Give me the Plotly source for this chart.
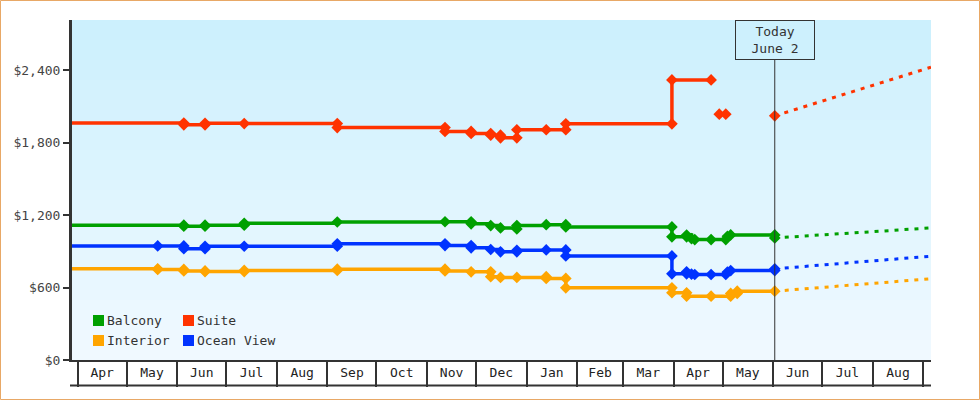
import plotly.graph_objects as go

# ---------------- data ----------------
Y_TICKS = [0, 600, 1200, 1800, 2400]
Y_TICK_LABELS = ["$0", "$600", "$1,200", "$1,800", "$2,400"]
X_START = "2024-03-28 12:00"
X_END = "2025-09-05 17:00"
TODAY = "2025-06-02"
TODAY_LABEL = "Today<br>June 2"

SERIES_NAMES = ["Balcony", "Suite", "Interior", "Ocean View"]
SERIES_COLORS = ["#00a000", "#ff3300", "#ffa500", "#0033ff"]

BALCONY_DATES = ["2024-03-28", "2024-06-05", "2024-06-05", "2024-06-18", "2024-06-18",
                 "2024-07-12", "2024-07-12", "2024-09-07", "2024-11-12", "2024-11-28", "2024-11-28",
                 "2024-12-10", "2024-12-16", "2024-12-26", "2024-12-26", "2025-01-13",
                 "2025-01-25", "2025-01-25", "2025-03-31", "2025-03-31", "2025-04-09",
                 "2025-04-09", "2025-04-12", "2025-04-14", "2025-04-24", "2025-05-03",
                 "2025-05-04", "2025-05-06", "2025-06-02", "2025-06-02"]
BALCONY_PRICES = [1117, 1117, 1108, 1108, 1117,
                  1117, 1132, 1143, 1145, 1145, 1128,
                  1113, 1094, 1086, 1113, 1121,
                  1121, 1102, 1102, 1020, 1020,
                  1035, 1005, 997, 997, 997,
                  1025, 1036, 1036, 1011]

SUITE_DATES = ["2024-03-28", "2024-06-05", "2024-06-05", "2024-06-18", "2024-06-18",
               "2024-07-12", "2024-09-07", "2024-09-07", "2024-11-12", "2024-11-12",
               "2024-11-28", "2024-11-28", "2024-12-10", "2024-12-10", "2024-12-16",
               "2024-12-16", "2024-12-26", "2024-12-26", "2025-01-13", "2025-01-25",
               "2025-01-25", "2025-03-31", "2025-03-31", "2025-04-24", "2025-04-26",
               "2025-04-29", "2025-05-03", "2025-05-10", "2025-06-02"]
SUITE_PRICES = [1962, 1962, 1948, 1948, 1960,
                1958, 1958, 1925, 1925, 1893,
                1893, 1876, 1876, 1862, 1862,
                1840, 1840, 1907, 1907, 1907,
                1956, 1956, 2320, 2320, None,
                2036, 2036, None, 2022]

INTERIOR_DATES = ["2024-03-28", "2024-05-20", "2024-05-20", "2024-06-05", "2024-06-05",
                  "2024-06-18", "2024-06-18", "2024-07-12", "2024-07-12", "2024-09-07",
                  "2024-09-07", "2024-11-12", "2024-11-12", "2024-11-28", "2024-12-10",
                  "2024-12-10", "2024-12-16", "2024-12-26", "2025-01-13", "2025-01-13",
                  "2025-01-25", "2025-01-25", "2025-03-31", "2025-03-31", "2025-04-09",
                  "2025-04-09", "2025-04-24", "2025-05-06", "2025-05-06", "2025-05-10",
                  "2025-05-10", "2025-06-02"]
INTERIOR_PRICES = [755, 755, 750, 750, 738,
                   738, 732, 732, 742, 742,
                   752, 752, 738, 730, 730,
                   690, 684, 684, 690, 676,
                   676, 598, 598, 557, 557,
                   529, 529, 529, 551, 551,
                   570, 570]

OCEAN_DATES = ["2024-03-28", "2024-05-20", "2024-06-05", "2024-06-05", "2024-06-18",
               "2024-06-18", "2024-07-12", "2024-09-07", "2024-09-07", "2024-11-12",
               "2024-11-12", "2024-11-28", "2024-11-28", "2024-12-10", "2024-12-16",
               "2024-12-26", "2024-12-26", "2025-01-13", "2025-01-25", "2025-01-25",
               "2025-03-31", "2025-03-31", "2025-04-09", "2025-04-09", "2025-04-12",
               "2025-04-14", "2025-04-24", "2025-05-03", "2025-05-04", "2025-05-06",
               "2025-06-02", "2025-06-02"]
OCEAN_PRICES = [945, 945, 945, 922, 922,
                942, 942, 942, 962, 962,
                948, 948, 929, 915, 896,
                896, 909, 912, 912, 862,
                862, 714, 714, 730, 712,
                708, 708, 708, 728, 741,
                741, 755]

FORECAST_DATES = [TODAY, X_END]
BALCONY_FORECAST = [1011, 1094]
SUITE_FORECAST = [2022, 2425]
INTERIOR_FORECAST = [570, 673]
OCEAN_FORECAST = [755, 860]

# ---------------- layout helpers ----------------
W, H = 980, 400
L, R, T, B = 72, 49, 20, 40
PW, PH = W - L - R, H - T - B
FONT = "DejaVu Sans Mono"


def px(x):
    return (x - L) / PW


def py(y):
    return (H - B - y) / PH


fig = go.Figure()

series = [
    (BALCONY_DATES, BALCONY_PRICES, BALCONY_FORECAST),
    (SUITE_DATES, SUITE_PRICES, SUITE_FORECAST),
    (INTERIOR_DATES, INTERIOR_PRICES, INTERIOR_FORECAST),
    (OCEAN_DATES, OCEAN_PRICES, OCEAN_FORECAST),
]

for (dates, prices, fc), name, color in zip(series, SERIES_NAMES, SERIES_COLORS):
    fig.add_trace(go.Scatter(
        x=FORECAST_DATES, y=fc, mode="lines", name=name + " forecast",
        line=dict(color=color, width=3, dash="4px,6px"),
        showlegend=False, hoverinfo="skip"))
    fig.add_trace(go.Scatter(
        x=dates, y=prices, mode="lines+markers", name=name,
        line=dict(color=color, width=3.5, shape="hv"),
        marker=dict(symbol="diamond", size=9, color=color),
        connectgaps=False, cliponaxis=False, showlegend=False))

shapes = []
# gradient background of plot area
TOPC = (204, 240, 253)
BOTC = (240, 249, 255)
N = 34
for i in range(N):
    f = i / (N - 1)
    c = tuple(round(TOPC[k] + (BOTC[k] - TOPC[k]) * f) for k in range(3))
    shapes.append(dict(type="rect", xref="paper", yref="paper", x0=0, x1=1,
                       y0=1 - (i + 1) / N, y1=1 - i / N, layer="below",
                       line=dict(width=0), fillcolor="rgb(%d,%d,%d)" % c))
# today line
shapes.append(dict(type="line", xref="x", yref="paper", x0=TODAY, x1=TODAY,
                   y0=0, y1=py(60), line=dict(color="#333", width=1)))
# bottom line of month cells
shapes.append(dict(type="line", xref="paper", yref="paper", x0=px(70), x1=1,
                   y0=py(385.5), y1=py(385.5), line=dict(color="#333", width=2)))
# outer orange frame
shapes.append(dict(type="rect", xref="paper", yref="paper", x0=px(0.5), x1=px(979.5),
                   y0=py(399.5), y1=py(0.5), line=dict(color="#e8a866", width=1)))

annotations = [dict(x=TODAY, xref="x", y=1, yref="paper", yanchor="top", xanchor="center",
                    text=TODAY_LABEL, showarrow=False, width=76, height=36,
                    bordercolor="#333", borderwidth=1, borderpad=1,
                    font=dict(family=FONT, size=13, color="#333"))]

# legend (2 x 2 grid)
leg_cols = [93, 183]
leg_rows = [320.5, 340.5]
for i, (name, color) in enumerate(zip(SERIES_NAMES, SERIES_COLORS)):
    cx = leg_cols[i % 2]
    cy = leg_rows[i // 2]
    shapes.append(dict(type="rect", xref="paper", yref="paper",
                       x0=px(cx), x1=px(cx + 11), y0=py(cy + 5.5), y1=py(cy - 5.5),
                       line=dict(width=0), fillcolor=color))
    annotations.append(dict(x=px(cx + 12), y=py(cy), xref="paper", yref="paper",
                            xanchor="left", yanchor="middle", text=name, showarrow=False,
                            font=dict(family=FONT, size=13, color="#333")))

fig.update_layout(
    width=W, height=H,
    margin=dict(l=L, r=R, t=T, b=B),
    paper_bgcolor="white", plot_bgcolor="#e6f6fd",
    font=dict(family=FONT, size=13, color="#333"),
    showlegend=False,
    shapes=shapes, annotations=annotations,
    xaxis=dict(type="date", range=[X_START, X_END], showgrid=False, zeroline=False,
               showline=True, linecolor="#333", linewidth=2,
               ticks="outside", ticklen=25, tickwidth=2, tickcolor="#333",
               dtick="M1", tick0="2024-04-01", tickformat="%b",
               ticklabelmode="period", ticklabelstandoff=-26,
               tickfont=dict(family=FONT, size=13, color="#222")),
    yaxis=dict(range=[0, 2816], tickvals=Y_TICKS, ticktext=Y_TICK_LABELS,
               showgrid=False, zeroline=False, showline=True, linecolor="#333",
               linewidth=3, ticks="outside", ticklen=6, tickwidth=2, tickcolor="#333",
               tickfont=dict(family=FONT, size=13, color="#444")),
)

fig.write_html("out.html")
